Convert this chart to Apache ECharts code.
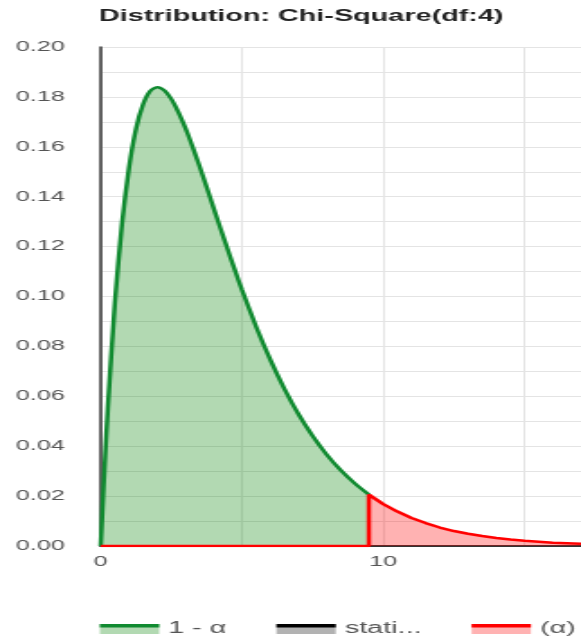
<!DOCTYPE html>
<html><head><meta charset="utf-8">
<script src="https://cdn.jsdelivr.net/npm/echarts@6/dist/echarts.min.js"></script>
<style>
html,body{margin:0;padding:0;overflow:hidden;background:#fff;width:581px;height:636px}
#main{width:323px;height:636px;transform:scaleX(1.7988);transform-origin:0 0;}
</style></head><body><div id="main"></div>
<script>
const titleText = 'Distribution: Chi-Square(df:4)';
const legendNames = ['1 - α', 'statistic', '(α)'];
// acceptance region (1 - α): x and density
const xAccept = [0, 0.1, 0.25, 0.5, 0.75, 1, 1.25, 1.5, 1.75, 2, 2.25, 2.5, 2.75, 3, 3.25, 3.5, 3.75, 4, 4.25, 4.5, 4.75, 5, 5.5, 6, 6.5, 7, 7.5, 8, 8.5, 9, 9.49];
const yAccept = [0, 0.0238, 0.0552, 0.0974, 0.1289, 0.1516, 0.1673, 0.1771, 0.1824, 0.1839, 0.1826, 0.1791, 0.1738, 0.1674, 0.1600, 0.1521, 0.1438, 0.1353, 0.1269, 0.1186, 0.1105, 0.1026, 0.0879, 0.0747, 0.0630, 0.0528, 0.0441, 0.0366, 0.0303, 0.0250, 0.0206];
// rejection region (α)
const xReject = [0, 9.49, 9.49, 10, 10.5, 11, 11.5, 12, 12.5, 13, 13.5, 14, 14.5, 15, 15.5, 16, 16.5, 17];
const yReject = [0, 0, 0.0206, 0.0168, 0.0138, 0.0112, 0.0092, 0.0074, 0.0060, 0.0049, 0.0040, 0.0032, 0.0026, 0.0021, 0.0017, 0.0013, 0.0011, 0.0009];
// statistic (nothing visible above the axis)
const xStatistic = [];
const yStatistic = [];
const xLabelValues = [0, 10];
const yLabelStep = 0.02;

const lineColors = ['#108a30', '#000000', '#ff0000'];
const fillColors = ['rgba(0,128,0,0.3)', 'rgba(0,0,0,0.3)', 'rgba(255,0,0,0.3)'];
const FONT = 'Liberation Sans, Arial, Helvetica, sans-serif';

const zip = (xs, ys) => xs.map((x, i) => [x, ys[i]]);

function legendData(kind) {
  return legendNames.map((n, i) => {
    const d = {
      name: n,
      itemStyle: { color: kind === 'fill' ? fillColors[i] : lineColors[i], borderWidth: 0 }
    };
    if (n === 'statistic') d.textStyle = { width: 49.5, overflow: 'truncate', ellipsis: '...' };
    return d;
  });
}
const legendCommon = {
  left: 50.5, top: 616, width: 1000, orient: 'horizontal', type: 'plain',
  itemWidth: 33, itemHeight: 10, itemGap: 27.8, padding: 5,
  selectedMode: false,
  itemStyle: { borderWidth: 0 }
};

const chart = echarts.init(document.getElementById('main'), null, { renderer: 'canvas' });
chart.setOption({
  animation: false,
  textStyle: { fontFamily: FONT },
  title: {
    text: titleText, left: 50, top: 4, padding: 5,
    textStyle: { fontSize: 16, fontWeight: 'bold', color: '#222', fontFamily: FONT }
  },
  legend: [
    Object.assign({}, legendCommon, {
      z: 4, icon: 'rect', data: legendData('fill'),
      textStyle: { fontSize: 16, color: 'rgba(0,0,0,0)', fontFamily: FONT }
    }),
    Object.assign({}, legendCommon, {
      z: 5, icon: 'path://M0,0L33,0L33,3.5L0,3.5Z M0,10L33,10', data: legendData('line'),
      textStyle: { fontSize: 16, color: '#555', fontFamily: FONT }
    })
  ],
  grid: { left: 56, right: 0, top: 47, bottom: 90, containLabel: false, outerBoundsMode: 'none' },
  xAxis: {
    type: 'value', min: 0, max: 17, interval: 5,
    axisLine: { show: true, onZero: true, lineStyle: { color: '#333', width: 2 } },
    axisTick: { show: false },
    axisLabel: {
      margin: 9, fontSize: 14, color: '#555', fontFamily: FONT, showMaxLabel: false,
      formatter: v => xLabelValues.includes(Math.round(v)) && Math.abs(v - Math.round(v)) < 1e-9 ? String(Math.round(v)) : ''
    },
    splitLine: { show: true, lineStyle: { color: '#e4e4e4', width: 1 } }
  },
  yAxis: {
    type: 'value', min: 0, max: 0.2, interval: 0.01,
    axisLine: { show: true, lineStyle: { color: '#333', width: 1.5 } },
    axisTick: { show: false },
    axisLabel: {
      margin: 20, fontSize: 14, color: '#555', fontFamily: FONT,
      formatter: v => (Math.round(v * 100) % Math.round(yLabelStep * 100) === 0) ? v.toFixed(2) : ''
    },
    splitLine: { show: true, lineStyle: { color: '#e4e4e4', width: 1 } }
  },
  series: [
    {
      name: legendNames[0], type: 'line', data: zip(xAccept, yAccept), smooth: 0.25,
      symbol: 'none', z: 2,
      lineStyle: { color: lineColors[0], width: 2.5 }, itemStyle: { color: lineColors[0] },
      areaStyle: { color: fillColors[0], opacity: 1 }
    },
    {
      name: legendNames[1], type: 'line', data: zip(xStatistic, yStatistic),
      symbol: 'none', z: 2,
      lineStyle: { color: lineColors[1], width: 2.5 }, itemStyle: { color: lineColors[1] },
      areaStyle: { color: fillColors[1], opacity: 1 }
    },
    {
      name: legendNames[2], type: 'line', data: zip(xReject, yReject), smooth: false,
      symbol: 'none', z: 3,
      lineStyle: { color: lineColors[2], width: 2.5 }, itemStyle: { color: lineColors[2] },
      areaStyle: { color: fillColors[2], opacity: 1 }
    }
  ]
});
</script></body></html>
